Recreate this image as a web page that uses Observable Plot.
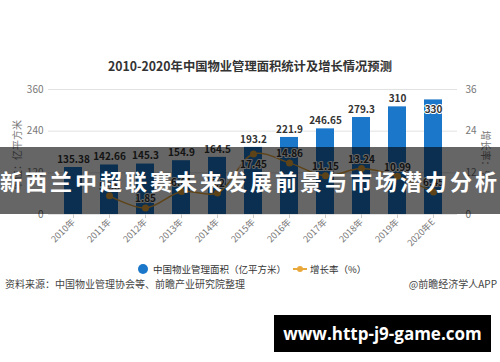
<!DOCTYPE html>
<html><head><meta charset="utf-8">
<script src="https://cdn.jsdelivr.net/npm/d3@7"></script>
<script src="https://cdn.jsdelivr.net/npm/@observablehq/plot@0.6"></script>
<style>
body{margin:0;background:#fff;font-family:"Noto Sans CJK SC","Noto Sans",sans-serif;}
#wrap{position:relative;width:500px;height:362px;overflow:hidden;background:#fff;}
#chart{position:absolute;left:0;top:0;}
.abs{position:absolute;white-space:nowrap;}
</style></head><body>
<div id="wrap">
  <div id="chart"></div>
  <div class="abs" style="left:0;width:500px;top:59px;text-align:center;font-size:12.3px;line-height:14px;font-weight:bold;color:#333;">2010-2020年中国物业管理面积统计及增长情况预测</div>
  <div class="abs" style="left:17px;top:155px;font-size:10px;line-height:12px;color:#777;transform:translate(-50%,-50%) rotate(-90deg);">单位：亿平方米</div>
  <div class="abs" style="left:486px;top:155px;font-size:10px;line-height:12px;color:#777;transform:translate(-50%,-50%) rotate(90deg);">增长率：%</div>
  <div class="abs" id="legend" style="left:0;top:262px;width:500px;height:14px;">
    <svg width="500" height="14" style="position:absolute;left:0;top:0">
      <circle cx="143" cy="7" r="5" fill="#1a77c9"></circle>
      <line x1="293" x2="307" y1="7" y2="7" stroke="#e9a83b" stroke-width="2"></line>
      <circle cx="300" cy="7" r="3" fill="#e9a83b"></circle>
    </svg>
    <span class="abs" id="lg1" style="left:153px;top:0;font-size:9.5px;line-height:14px;color:#333;">中国物业管理面积（亿平方米）</span>
    <span class="abs" id="lg2" style="left:310px;top:0;font-size:9.5px;line-height:14px;color:#333;">增长率（%）</span>
  </div>
  <div class="abs" style="left:5px;top:277px;font-size:10px;line-height:14px;color:#444;">资料来源：中国物业管理协会等、前瞻产业研究院整理</div>
  <div class="abs" style="right:3px;top:277px;font-size:10px;line-height:14px;color:#444;">@前瞻经济学人APP</div>
  <div class="abs" style="left:0;top:147px;width:500px;height:67px;background:rgba(0,0,0,0.6);"></div>
  <div class="abs" style="left:0;top:147px;width:500px;height:67px;line-height:67px;text-align:center;color:#fff;font-size:22px;font-weight:bold;letter-spacing:3px;">新西兰中超联赛未来发展前景与市场潜力分析</div>
  <div class="abs" style="left:274px;top:315px;width:217px;height:37px;background:#000;color:#fff;font-family:'Open Sans',sans-serif;font-weight:700;font-size:17px;line-height:37px;text-align:center;">www.http-j9-game.com</div>
</div>
<script>
const years = ["2010年","2011年","2012年","2013年","2014年","2015年","2016年","2017年","2018年","2019年","2020年E"];
const area = [135.38,142.66,145.3,154.9,164.5,193.2,221.9,246.65,279.3,310,330];
const areaLabels = ["135.38","142.66","145.3","154.9","164.5","193.2","221.9","246.65","279.3","310","330"];
const growthYears = ["2011年","2012年","2013年","2014年","2015年","2016年","2017年","2018年","2019年","2020年E"];
const growth = [5.38,1.85,6.61,6.2,17.45,14.86,11.15,13.24,10.99,6.45];
const leftTicks = [0,120,240,360];
const rightTicks = [0,12,24,36];

const bars = years.map((y,i)=>({year:y, v:area[i], label:areaLabels[i]}));
const gdata = growthYears.map((y,i)=>({year:y, g:growth[i]}));
const ratio = 360/36;
const below = ["2015年"];

const chart = Plot.plot({
  width:500, height:362,
  marginTop:89, marginBottom:148, marginLeft:48, marginRight:43,
  style:{fontFamily:'"Noto Sans CJK SC","Noto Sans",sans-serif', fontSize:"10px", color:"#666", background:"transparent"},
  x:{domain:years, paddingInner:0.5, paddingOuter:0.4, label:null},
  y:{domain:[0,360], label:null},
  marks:[
    Plot.gridY(leftTicks, {stroke:"#e2e2e2", strokeOpacity:1}),
    Plot.barY(bars, {x:"year", y:"v", fill:"#1a77c9"}),
    Plot.axisY(leftTicks, {tickSize:0, tickPadding:5, label:null, fill:"#777"}),
    Plot.axisY(rightTicks.map(d=>d*ratio), {anchor:"right", tickFormat:d=>String(d/ratio), tickSize:0, tickPadding:8, label:null, fill:"#777"}),
    Plot.axisX({tickRotate:-45, tickSize:4, tickPadding:2, label:null, stroke:"#ccc", fill:"#777", fontSize:9}),
    Plot.line(gdata, {x:"year", y:d=>d.g*ratio, stroke:"#e9a83b", strokeWidth:1.5, curve:"catmull-rom"}),
    Plot.dot(gdata, {x:"year", y:d=>d.g*ratio, r:3.5, fill:"#e9a83b"}),
    Plot.text(gdata.filter(d=>!below.includes(d.year)), {x:"year", y:d=>d.g*ratio, text:d=>String(d.g), dy:-9, fill:"#333", stroke:"white", strokeWidth:2, fontSize:10, fontWeight:"bold"}),
    Plot.text(gdata.filter(d=>below.includes(d.year)), {x:"year", y:d=>d.g*ratio, text:d=>String(d.g), dy:11, fill:"#333", stroke:"white", strokeWidth:2, fontSize:10, fontWeight:"bold"}),
    Plot.text(bars.slice(0,-1), {x:"year", y:"v", text:"label", dy:-8, fill:"#333", stroke:"white", strokeWidth:2, fontSize:10, fontWeight:"bold"}),
    Plot.text(bars.slice(-1), {x:"year", y:"v", text:"label", dy:10, fill:"#333", stroke:"white", strokeWidth:2, fontSize:10, fontWeight:"bold"})
  ]
});
document.getElementById("chart").appendChild(chart);
</script>
</body></html>
